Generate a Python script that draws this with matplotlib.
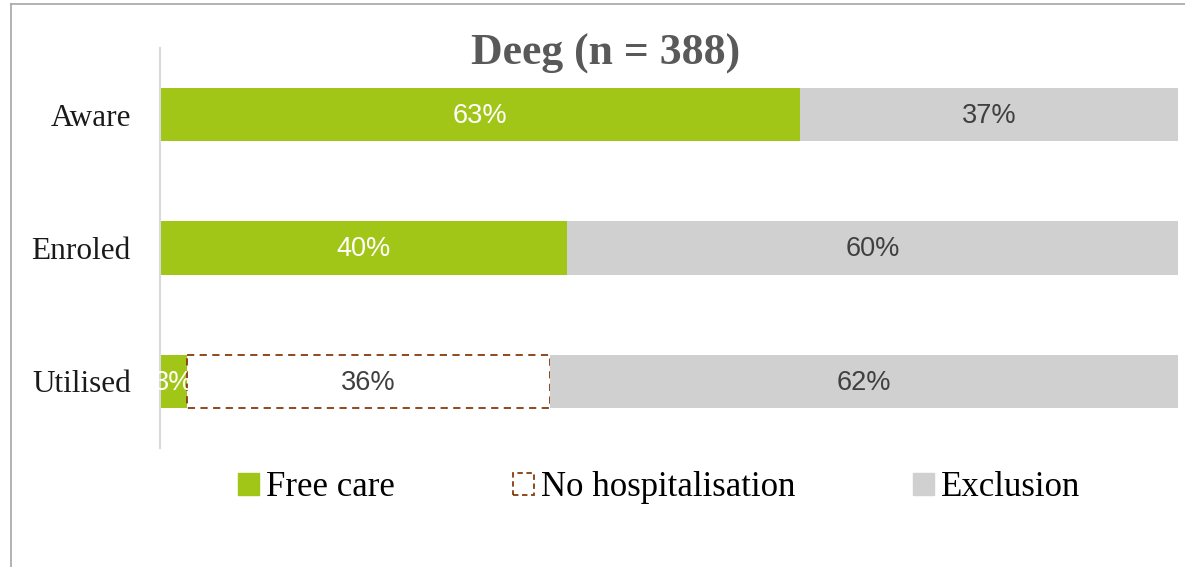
import matplotlib
matplotlib.use('agg')
import matplotlib.pyplot as plt
from matplotlib.lines import Line2D
from matplotlib.patches import Patch

categories = ["Aware", "Enroled", "Utilised"]
free_care = [62.9, 40.0, 2.7]
no_hosp = [0, 0, 35.6]
exclusion = [37.1, 60.0, 61.7]
free_labels = ["63%", "40%", "3%"]
no_hosp_labels = ["", "", "36%"]
excl_labels = ["37%", "60%", "62%"]

green = "#A2C617"
grey = "#D0D0D0"
brown = "#843C0C"
serif = "Liberation Serif"

fig = plt.figure(figsize=(11.85, 5.67), dpi=100)
ax = fig.add_axes([160 / 1185, 1 - 448 / 567, 1018 / 1185, 400 / 567])

y = list(range(len(categories)))
left2 = free_care
left3 = [a + b for a, b in zip(free_care, no_hosp)]

b1 = ax.barh(y, free_care, height=0.4, color=green)
b2 = ax.barh(y, no_hosp, left=left2, height=0.4, facecolor="white",
             edgecolor=brown, linestyle=(0, (4, 3)), linewidth=1.3)
b2[0].set_visible(False)
b2[1].set_visible(False)
b3 = ax.barh(y, exclusion, left=left3, height=0.4, color=grey)

# data labels (free care label clipped to its own bar, like the original)
for i in y:
    t = ax.text(free_care[i] / 2, i + 0.01, free_labels[i], ha="center", va="center",
                color="white", fontsize=19.5, family="Liberation Sans")
    t.set_clip_path(b1[i])
    if no_hosp_labels[i]:
        ax.text(left2[i] + no_hosp[i] / 2, i + 0.01, no_hosp_labels[i], ha="center",
                va="center", color="#404040", fontsize=19.5, family="Liberation Sans")
    ax.text(left3[i] + exclusion[i] / 2, i + 0.01, excl_labels[i], ha="center",
            va="center", color="#404040", fontsize=19.5, family="Liberation Sans")

ax.set_xlim(0, 100)
ax.set_ylim(2.5, -0.5)
ax.set_yticks(y)
ax.set_yticklabels(categories, fontsize=22.5, family=serif, color="#1a1a1a")
ax.tick_params(axis="y", length=0, pad=21)
ax.set_xticks([])
for side in ["top", "right", "bottom"]:
    ax.spines[side].set_visible(False)
ax.spines["left"].set_color("#D9D9D9")
ax.spines["left"].set_linewidth(1.5)

fig.text(606 / 1185, 1 - 54 / 567, "Deeg (n = 388)", ha="center", va="center",
         fontsize=31.5, fontweight="bold", family=serif, color="#595959")

handles = [
    Patch(facecolor=green, edgecolor=green),
    Patch(facecolor="white", edgecolor=brown, linestyle=(0, (3, 2)), linewidth=1.3),
    Patch(facecolor=grey, edgecolor=grey),
]
fig.legend(handles, ["Free care", "No hospitalisation", "Exclusion"],
           loc="center", bbox_to_anchor=(659 / 1185, 1 - 488 / 567), ncol=3,
           frameon=False, prop={"family": serif, "size": 25},
           handlelength=0.6, handleheight=0.6, handletextpad=0.2, columnspacing=3.4)

# chart frame
fig.add_artist(Line2D([11 / 1185, 11 / 1185], [0, 1 - 4 / 567], color="#A6A6A6", lw=1.2))
fig.add_artist(Line2D([11 / 1185, 1], [1 - 4 / 567, 1 - 4 / 567], color="#A6A6A6", lw=1.2))

fig.savefig("out.png", dpi=100)
